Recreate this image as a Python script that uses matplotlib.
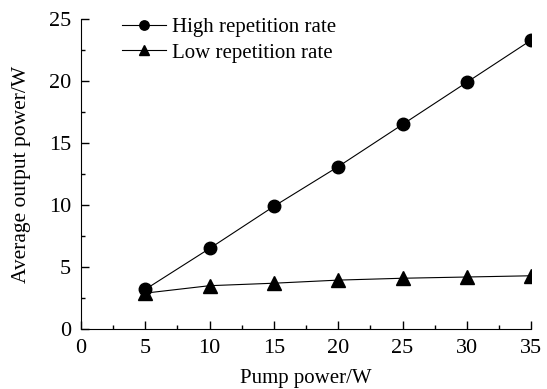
import numpy as np
import matplotlib.pyplot as plt
from matplotlib.ticker import MultipleLocator

pump_power = [5, 10, 15, 20, 25, 30, 35]
high_rate = [3.2, 6.5, 9.9, 13.1, 16.5, 19.9, 23.3]
low_rate = [2.9, 3.5, 3.7, 3.95, 4.1, 4.2, 4.3]

plt.rcParams['font.family'] = ['Liberation Serif', 'DejaVu Serif']
plt.rcParams['font.size'] = 14

fig = plt.figure(figsize=(5.47, 3.89), dpi=100, facecolor='w')
ax = fig.add_axes([0.148, 0.154, 0.823, 0.797])

ax.plot(pump_power, high_rate, color='k', lw=0.8, marker='o', markersize=9, label='High repetition rate')
ax.plot(pump_power, low_rate, color='k', lw=0.8, marker='^', markersize=10, label='Low repetition rate')

ax.set_xlim(0, 35)
ax.set_ylim(0, 25)
ax.xaxis.set_major_locator(MultipleLocator(5))
ax.xaxis.set_minor_locator(MultipleLocator(2.5))
ax.yaxis.set_major_locator(MultipleLocator(5))
ax.yaxis.set_minor_locator(MultipleLocator(2.5))
ax.tick_params(which='major', direction='in', length=6, width=1, labelsize=16, pad=7)
ax.tick_params(which='minor', direction='in', length=3, width=1)
ax.spines['top'].set_visible(False)
ax.spines['right'].set_visible(False)

ax.set_xlabel('Pump power/W', fontsize=15, labelpad=8)
ax.set_ylabel('Average output power/W', fontsize=15.5, labelpad=13)

ax.legend(loc='upper left', bbox_to_anchor=(0.05, 1.065), frameon=False, fontsize=15,
          handlelength=2.1, handletextpad=0.3, labelspacing=0.28, markerscale=0.75)

fig.savefig('out.png', dpi=100)
